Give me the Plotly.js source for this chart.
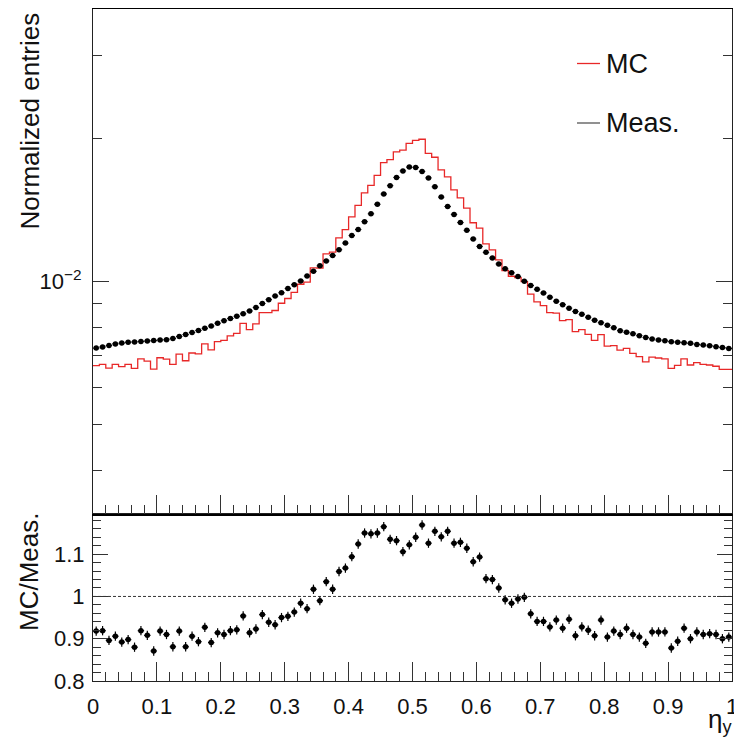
<!DOCTYPE html>
<html><head><meta charset="utf-8">
<script src="https://cdn.plot.ly/plotly-3.0.1.min.js"></script>
<style>html,body{margin:0;padding:0;background:#fff;} #plot{width:734px;height:742px;}</style>
</head><body><div id="plot"></div>
<script>
// Histogram binning in eta_y
const nBins = 100, etaMin = 0, etaMax = 1;

// Measured (black points), normalized entries per bin
const measValues = [
0.00725,0.00729,0.00734,0.00740,0.00743,0.00746,0.00747,0.00749,0.00750,0.00752,
0.00754,0.00755,0.00760,0.00767,0.00774,0.00782,0.00790,0.00798,0.00807,0.00818,
0.00828,0.00837,0.00846,0.00856,0.00868,0.00883,0.00900,0.00917,0.00933,0.00948,
0.00968,0.00986,0.01004,0.01028,0.01052,0.01080,0.01106,0.01135,0.01168,0.01206,
0.01251,0.01288,0.01338,0.01390,0.01456,0.01530,0.01593,0.01658,0.01711,0.01743,
0.01740,0.01707,0.01654,0.01584,0.01507,0.01440,0.01386,0.01332,0.01283,0.01230,
0.01187,0.01153,0.01122,0.01090,0.01065,0.01044,0.01026,0.01003,0.00982,0.00964,
0.00947,0.00928,0.00910,0.00895,0.00880,0.00866,0.00854,0.00842,0.00830,0.00820,
0.00810,0.00800,0.00789,0.00783,0.00777,0.00770,0.00763,0.00758,0.00754,0.00751,
0.00748,0.00746,0.00744,0.00742,0.00738,0.00736,0.00733,0.00730,0.00727,0.00724];

// MC (red histogram), normalized entries per bin
const mcValues = [
0.00666,0.00670,0.00658,0.00670,0.00663,0.00670,0.00657,0.00688,0.00681,0.00655,
0.00692,0.00687,0.00670,0.00704,0.00682,0.00708,0.00705,0.00740,0.00719,0.00748,
0.00753,0.00769,0.00779,0.00817,0.00793,0.00815,0.00861,0.00861,0.00870,0.00901,
0.00922,0.00950,0.00988,0.00998,0.01070,0.01069,0.01145,0.01154,0.01237,0.01287,
0.01369,0.01448,0.01539,0.01596,0.01674,0.01782,0.01808,0.01877,0.01892,0.01956,
0.01984,0.01995,0.01862,0.01828,0.01719,0.01662,0.01561,0.01502,0.01429,0.01331,
0.01297,0.01201,0.01167,0.01112,0.01056,0.01027,0.01020,0.01001,0.00942,0.00907,
0.00891,0.00861,0.00859,0.00828,0.00832,0.00785,0.00793,0.00775,0.00753,0.00774,
0.00732,0.00734,0.00718,0.00724,0.00707,0.00696,0.00678,0.00694,0.00691,0.00688,
0.00657,0.00667,0.00688,0.00668,0.00676,0.00670,0.00668,0.00664,0.00654,0.00654];

// Ratio MC/Meas. per bin
const ratioValues = [
0.918,0.919,0.896,0.906,0.892,0.898,0.880,0.919,0.908,0.871,
0.918,0.910,0.881,0.918,0.881,0.906,0.893,0.927,0.891,0.914,
0.910,0.919,0.921,0.954,0.914,0.923,0.957,0.939,0.933,0.950,
0.953,0.963,0.984,0.971,1.017,0.990,1.035,1.017,1.059,1.067,
1.094,1.124,1.150,1.148,1.150,1.165,1.135,1.132,1.106,1.122,
1.140,1.169,1.126,1.154,1.141,1.154,1.126,1.128,1.114,1.082,
1.093,1.042,1.040,1.020,0.992,0.984,0.994,0.998,0.959,0.941,
0.941,0.928,0.944,0.925,0.946,0.907,0.928,0.920,0.907,0.944,
0.904,0.918,0.910,0.925,0.910,0.904,0.889,0.916,0.916,0.916,
0.878,0.894,0.925,0.900,0.916,0.910,0.912,0.910,0.900,0.904];
const ratioErr = 0.011;

// Tick labels
const xTickVals = [0,0.1,0.2,0.3,0.4,0.5,0.6,0.7,0.8,0.9,1];
const xTickText = ['0','0.1','0.2','0.3','0.4','0.5','0.6','0.7','0.8','0.9','1'];
const ratioTickVals = [0.8,0.9,1,1.1];
const ratioTickText = ['0.8','0.9','1','1.1'];
const logTickVals = [0.01];
const logTickText = ['10<sup>\u22122</sup>'];
const logMinorVals = [0.004,0.005,0.006,0.007,0.008,0.009,0.02,0.03];
const legendLabels = ['MC','Meas.'];
const yTitleTop = 'Normalized entries';
const yTitleRatio = 'MC/Meas.';
const xTitle = '\u03b7<sub>y</sub>';

// derived bin geometry
const binWidth = (etaMax - etaMin) / nBins;
const binCenters = measValues.map((_, i) => etaMin + binWidth * (i + 0.5));
const binEdges = mcValues.map((_, i) => etaMin + binWidth * i).concat([etaMax]);
const mcStep = mcValues.concat([mcValues[mcValues.length - 1]]);

const FONT = 'Liberation Sans, Arial, Helvetica, sans-serif';
const L = 93, R = 2, T = 9, B = 61, W = 734, H = 742;
const pw = W - L - R, ph = H - T - B;
const px = x => (x - L) / pw;
const py = y => (H - B - y) / ph;
const split = py(514);

const traces = [
  { x: binEdges, y: mcStep, xaxis: 'x2', yaxis: 'y2', type: 'scatter', mode: 'lines',
    line: { shape: 'hv', color: 'rgb(232,40,40)', width: 1.3 }, hoverinfo: 'skip', showlegend: false },
  { x: binCenters, y: measValues, xaxis: 'x2', yaxis: 'y2', type: 'scatter', mode: 'markers',
    marker: { color: '#000', size: 5.5 },
    error_x: { type: 'constant', value: binWidth / 2, width: 0, thickness: 1, color: '#000' },
    showlegend: false },
  { x: binCenters, y: ratioValues, xaxis: 'x', yaxis: 'y', type: 'scatter', mode: 'markers',
    marker: { color: '#000', size: 5.5 },
    error_x: { type: 'constant', value: binWidth / 2, width: 0, thickness: 1.2, color: '#000' },
    error_y: { type: 'constant', value: ratioErr, width: 0, thickness: 1.2, color: '#000' },
    showlegend: false }
];

const axisLine = { showline: true, linecolor: '#222', linewidth: 1, showgrid: false, zeroline: false };
const tickFont = { family: FONT, size: 22, color: '#111' };

const layout = {
  width: W, height: H,
  margin: { l: L, r: R, t: T, b: B, pad: 0 },
  paper_bgcolor: '#fff', plot_bgcolor: '#fff',
  showlegend: false,
  font: { family: FONT, color: '#111' },
  xaxis: Object.assign({}, axisLine, {
    domain: [0, 1], anchor: 'y', range: [etaMin, etaMax],
    tickmode: 'array', tickvals: xTickVals, ticktext: xTickText,
    ticks: 'inside', ticklen: 19, tickwidth: 1, tickcolor: '#333',
    minor: { dtick: 0.02, tick0: 0, ticks: 'inside', ticklen: 9, tickwidth: 1, tickcolor: '#333', showgrid: false },
    mirror: true, tickfont: tickFont, ticklabelstandoff: 6, ticklabeloverflow: 'allow'
  }),
  xaxis2: Object.assign({}, axisLine, {
    domain: [0, 1], anchor: 'y2', range: [etaMin, etaMax],
    tickmode: 'array', tickvals: xTickVals, showticklabels: false,
    ticks: 'inside', ticklen: 19, tickwidth: 1, tickcolor: '#333',
    minor: { dtick: 0.02, tick0: 0, ticks: 'inside', ticklen: 9, tickwidth: 1, tickcolor: '#333', showgrid: false },
    mirror: true, linewidth: 1.5, linecolor: '#000'
  }),
  yaxis: Object.assign({}, axisLine, {
    domain: [0, split], anchor: 'x', range: [0.8, 1.195],
    tickmode: 'array', tickvals: ratioTickVals, ticktext: ratioTickText,
    ticks: 'inside', ticklen: 15, tickwidth: 1, tickcolor: '#333',
    minor: { dtick: 0.02, tick0: 0.8, ticks: 'inside', ticklen: 8, tickwidth: 1, tickcolor: '#333', showgrid: false },
    mirror: 'ticks', tickfont: tickFont, ticklabelstandoff: 3
  }),
  yaxis2: Object.assign({}, axisLine, {
    domain: [split, 1], anchor: 'x2', type: 'log',
    range: [Math.log10(0.003245), Math.log10(0.0375)],
    tickmode: 'array', tickvals: logTickVals, ticktext: logTickText,
    ticks: 'inside', ticklen: 16, tickwidth: 1, tickcolor: '#333',
    minor: { tickmode: 'array', tickvals: logMinorVals, ticks: 'inside', ticklen: 9, tickwidth: 1, tickcolor: '#333', showgrid: false },
    mirror: 'ticks', tickfont: tickFont, ticklabelstandoff: 6
  }),
  shapes: [
    { type: 'line', xref: 'x', yref: 'y', x0: etaMin, x1: etaMax, y0: 1, y1: 1,
      line: { color: '#333', width: 1, dash: '3px,2px' } },
    { type: 'line', xref: 'paper', yref: 'paper', x0: px(577), x1: px(600), y0: py(63.5), y1: py(63.5),
      line: { color: 'rgb(232,40,40)', width: 1.3 } },
    { type: 'line', xref: 'paper', yref: 'paper', x0: px(577), x1: px(600), y0: py(123), y1: py(123),
      line: { color: '#555', width: 1.3 } }
  ],
  annotations: [
    { text: legendLabels[0], xref: 'paper', yref: 'paper', x: px(604), y: py(64), xanchor: 'left', yanchor: 'middle',
      showarrow: false, font: { family: FONT, size: 27, color: '#111' } },
    { text: legendLabels[1], xref: 'paper', yref: 'paper', x: px(604), y: py(123), xanchor: 'left', yanchor: 'middle',
      showarrow: false, font: { family: FONT, size: 27, color: '#111' } },
    { text: yTitleTop, xref: 'paper', yref: 'paper', x: px(29), y: py(11), xanchor: 'center', yanchor: 'top',
      textangle: -90, showarrow: false, font: { family: FONT, size: 26, color: '#111' } },
    { text: yTitleRatio, xref: 'paper', yref: 'paper', x: px(29), y: py(511), xanchor: 'center', yanchor: 'top',
      textangle: -90, showarrow: false, font: { family: FONT, size: 26, color: '#111' } },
    { text: xTitle, xref: 'paper', yref: 'paper', x: px(734), y: py(702), xanchor: 'right', yanchor: 'top',
      showarrow: false, font: { family: FONT, size: 26, color: '#111' } }
  ]
};

Plotly.newPlot('plot', traces, layout, { staticPlot: true, displayModeBar: false });
</script>
</body></html>
